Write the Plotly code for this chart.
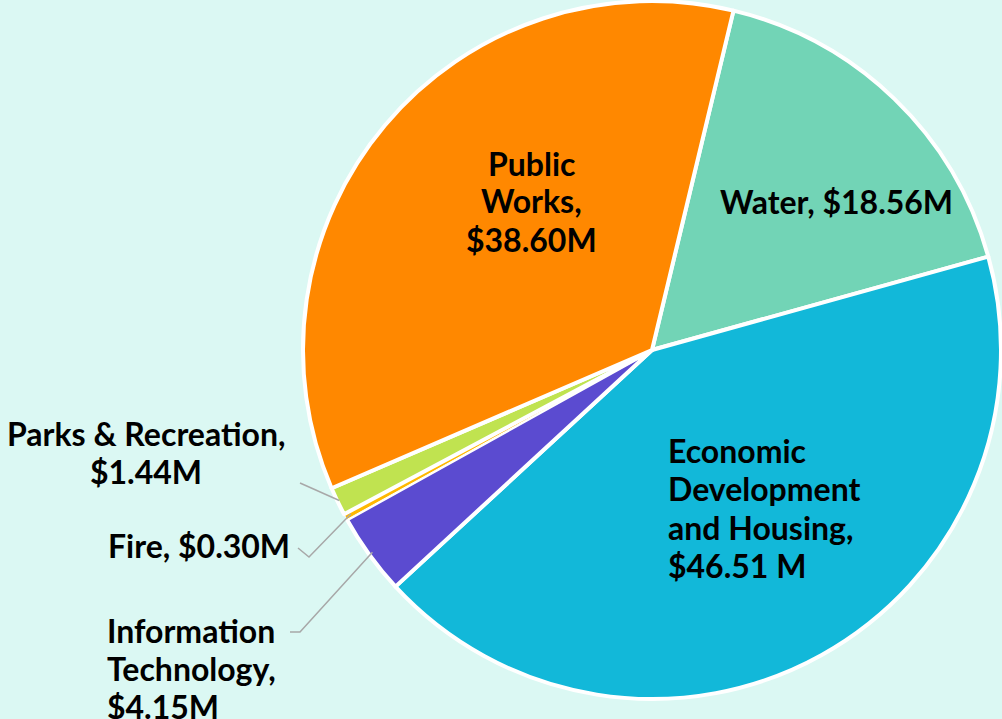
import math
import plotly.graph_objects as go

labels = ["Water", "Economic Development and Housing", "Information Technology",
          "Fire", "Parks & Recreation", "Public Works"]
values = [18.56, 46.51, 4.15, 0.30, 1.44, 38.60]
colors = ["#72d4b6", "#12b8d9", "#5b4bd0", "#ffb800", "#c0e350", "#ff8800"]
label_texts = ["Water, $18.56M",
               "Economic<br>Development<br>and Housing,<br>$46.51 M",
               "Information<br>Technology,<br>$4.15M",
               "Fire, $0.30M",
               "Parks & Recreation,<br>$1.44M",
               "Public<br>Works,<br>$38.60M"]

W, H = 1002, 719
CX, CY, R = 652, 350, 349
ROT = 13.5
BG = "#dbf8f3"

fig = go.Figure(go.Pie(
    labels=labels, values=values, sort=False, direction="clockwise",
    rotation=ROT, marker=dict(colors=colors, line=dict(color="white", width=[4, 4, 4, 1, 4, 4])),
    textinfo="none", hoverinfo="label+value", showlegend=False,
    domain=dict(x=[(CX - R) / W, (CX + R) / W], y=[1 - (CY + R) / H, 1 - (CY - R) / H]),
))

total = sum(values)
mids = []
acc = ROT
for v in values:
    a = v / total * 360
    mids.append(acc + a / 2)
    acc += a

def edge(i, r=R):
    ang = math.radians(mids[i])
    return CX + r * math.sin(ang), CY - r * math.cos(ang)

def px(x, y):
    return x / W, 1 - y / H

font = dict(family="Lato", size=32, color="#000000")

def add_label(text, x, y, xanchor, align):
    lines = text.split("<br>")
    n = len(lines)
    for k, ln in enumerate(lines):
        yy = y + (k - (n - 1) / 2) * 38
        X, Y = px(x, yy)
        fig.add_annotation(x=X, y=Y, xref="paper", yref="paper", text="<b>" + ln + "</b>",
                           showarrow=False, xanchor=xanchor, yanchor="middle",
                           font=font, align=align)

add_label(label_texts[0], 836, 202, "center", "center")
add_label(label_texts[1], 666, 508, "left", "left")
add_label(label_texts[5], 531, 201, "center", "center")
add_label(label_texts[4], 146, 452, "center", "center")
add_label(label_texts[3], 292, 545, "right", "right")
add_label(label_texts[2], 105, 668, "left", "left")

line_style = dict(color="#a8a8a8", width=1.5)

def add_path(points):
    path = "M " + " L ".join(f"{px(x, y)[0]},{px(x, y)[1]}" for x, y in points)
    fig.add_shape(type="path", path=path, xref="paper", yref="paper", line=line_style)

ex, ey = edge(4, R - 2)
add_path([(300, 483), (ex, ey)])
ex, ey = edge(3, R - 6)
add_path([(298, 548), (309, 557), (ex, ey)])
ex, ey = edge(2, R - 4)
add_path([(290, 632), (300, 632), (ex, ey)])

fig.update_layout(width=W, height=H, paper_bgcolor=BG, plot_bgcolor=BG,
                  margin=dict(l=0, r=0, t=0, b=0))
fig.write_html("out.html", config={"displayModeBar": False},
               post_script="document.body.style.margin='0';document.body.style.background='" + BG + "';")
